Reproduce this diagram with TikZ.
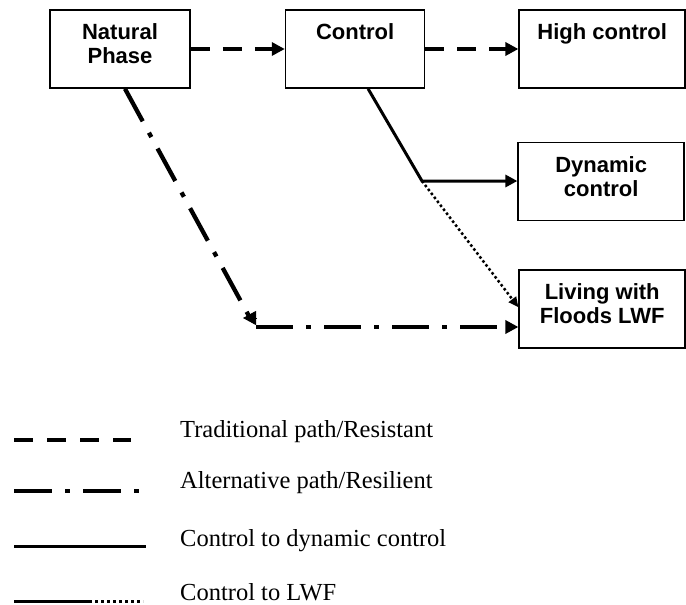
\documentclass[tikz,border=0pt]{standalone}
\usepackage{fontspec}
\setmainfont{Liberation Serif}
\setsansfont{Liberation Sans}
\usetikzlibrary{arrows.meta,positioning,calc}

\begin{document}
\begin{tikzpicture}[x=1pt, y=-1pt, node distance=94pt]
  \tikzstyle{block} = [rectangle, draw, line width=1.6pt, minimum width=140pt, minimum height=78pt, inner sep=0pt, align=center, text height=29.5pt, text depth=48.5pt, font=\sffamily\bfseries\fontsize{22}{24}\selectfont]
  \tikzstyle{twolines} = [text height=53.5pt, text depth=24.5pt]
  \tikzstyle{wideblock} = [block, minimum width=166pt]
  \tikzstyle{tradpath} = [draw, line width=4.2pt, dash pattern=on 19pt off 13pt, -{Triangle[length=13pt,width=13pt]}]
  \tikzstyle{altpath} = [draw, line width=4.3pt, dash pattern=on 37pt off 13pt on 5pt off 13pt]
  \tikzstyle{ctrlpath} = [draw, line width=3pt]
  \tikzstyle{lwfpath} = [draw, line width=2.5pt, dash pattern=on 2.5pt off 2.5pt]
  \tikzstyle{legtext} = [anchor=base west, inner sep=0pt, font=\fontsize{24.5}{28}\selectfont]

  \useasboundingbox (0,0) rectangle (686,605);

  \node[block, twolines] (np) at (120,49) {Natural\\Phase};
  \node[block, right=of np, minimum width=139pt] (ctrl) {Control};
  \node[wideblock, right=93pt of ctrl] (high) {High control};
  \node[wideblock, twolines, below=53pt of high, xshift=-1pt] (dyn) {Dynamic\\control};
  \node[wideblock, twolines, below=48pt of dyn, xshift=1pt] (lwf) {Living with\\Floods LWF};

  \coordinate (split) at (422,181);
  \coordinate (abend) at (250,318);
  \coordinate (atail) at (257,318);
  \coordinate (atip) at (243,318);
  \coordinate (hstart) at (256,327);

  \path[tradpath] (np) -- (ctrl);
  \path[tradpath] (ctrl) -- (high);
  \path[ctrlpath, -{Triangle[length=12pt,width=12pt]}] ($(ctrl.south)+(13,0)$) -- (split) -- (split -| dyn.west);
  \path[lwfpath, -{Triangle[length=10pt,width=9pt]}] (split) -- ($(lwf.west)+(0,-2)$);
  \path[altpath] ($(np.south)+(5,0)$) -- (abend);
  \path[draw, line width=1pt, -{Triangle[length=13pt,width=14pt]}] (atail) -- (atip);
  \path[altpath, -{Triangle[length=13pt,width=13pt]}] (hstart) -- (hstart -| lwf.west);

  % legend
  \node[legtext] (leg1) at (180,437) {Traditional path/Resistant};
  \node[legtext] (leg2) at (180,488) {Alternative path/Resilient};
  \node[legtext] (leg3) at (180,546) {Control to dynamic control};
  \node[legtext] (leg4) at (180,600) {Control to LWF};

  \path[draw, line width=4pt, dash pattern=on 19pt off 14pt] (14,440) -- (131,440);
  \path[draw, line width=4pt, dash pattern=on 38pt off 13pt on 5pt off 13pt] (14,491) -- (140,491);
  \path[ctrlpath] (14,546) -- (146,546);
  \path[ctrlpath] (14,601) -- (92,601);
  \path[lwfpath, line width=3pt, dash pattern=on 3pt off 3pt] (95,601) -- (143,601);
\end{tikzpicture}
\end{document}
